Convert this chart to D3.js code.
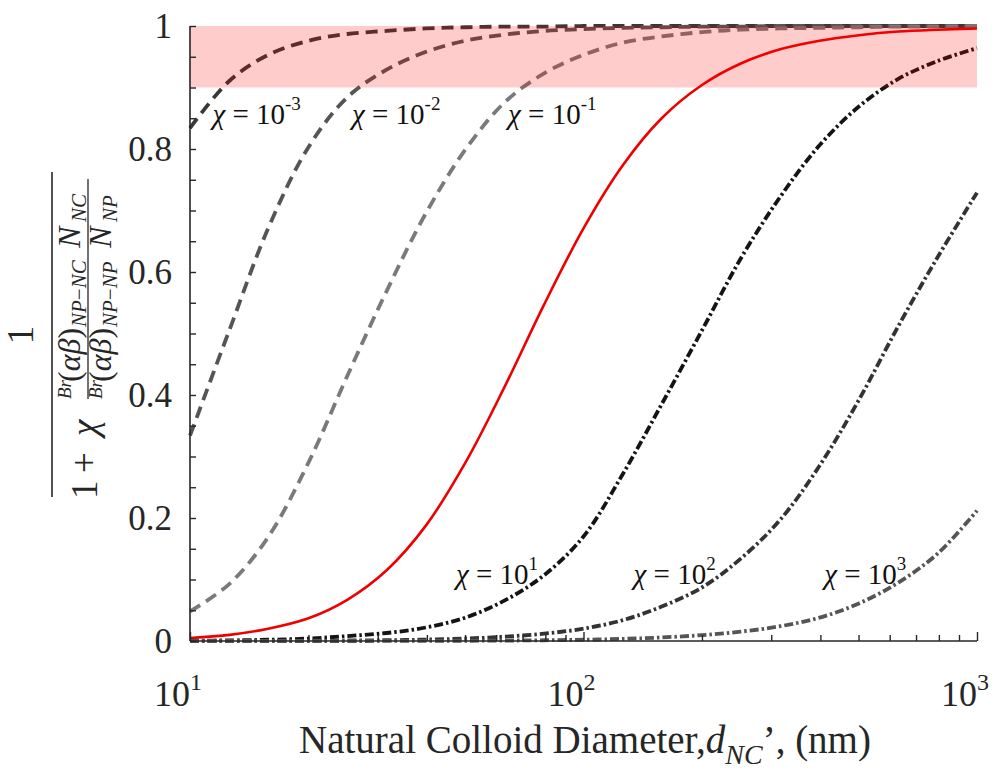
<!DOCTYPE html>
<html>
<head>
<meta charset="utf-8">
<script src="https://cdn.jsdelivr.net/npm/d3@7"></script>
<style>
  html, body { margin: 0; padding: 0; background: #fff; }
  svg { display: block; font-family: "Liberation Serif", "Times New Roman", serif; }
</style>
</head>
<body>
<svg id="chart" width="1005" height="771"></svg>
<script>
// Natural colloid diameter samples (nm), 0.1-decade spacing
const diameters = [10, 12.6, 15.8, 20, 25.1, 31.6, 39.8, 50.1, 63.1, 79.4, 100, 126, 158, 200, 251, 316, 398, 501, 631, 794, 1000];

// Attachment fraction for each chi
const chiEm3 = [0.834, 0.911, 0.953, 0.976, 0.987, 0.992, 0.996, 0.998, 0.999, 0.999, 1.000, 1.000, 1.000, 1.000, 1.000, 1.000, 1.000, 1.000, 1.000, 1.000, 1.000];
const chiEm2 = [0.334, 0.506, 0.671, 0.803, 0.884, 0.929, 0.958, 0.976, 0.986, 0.992, 0.995, 0.997, 0.998, 0.999, 0.999, 1.000, 1.000, 1.000, 1.000, 1.000, 1.000];
const chiEm1 = [0.048, 0.093, 0.169, 0.290, 0.431, 0.569, 0.696, 0.799, 0.876, 0.923, 0.953, 0.973, 0.983, 0.990, 0.994, 0.996, 0.997, 0.998, 0.999, 0.999, 1.000];
const chiE0  = [0.005, 0.010, 0.020, 0.037, 0.067, 0.115, 0.188, 0.290, 0.414, 0.547, 0.671, 0.774, 0.850, 0.904, 0.939, 0.962, 0.976, 0.985, 0.991, 0.994, 0.996];
const chiE1  = [0.0005, 0.001, 0.002, 0.004, 0.008, 0.013, 0.022, 0.038, 0.066, 0.107, 0.170, 0.272, 0.385, 0.505, 0.622, 0.722, 0.806, 0.869, 0.914, 0.943, 0.964];
const chiE2  = [0, 0.0001, 0.0002, 0.0004, 0.0008, 0.0013, 0.0023, 0.004, 0.007, 0.012, 0.020, 0.034, 0.056, 0.087, 0.134, 0.197, 0.285, 0.392, 0.512, 0.624, 0.729];
const chiE3  = [0, 0, 0, 0, 0, 0.0001, 0.0002, 0.0004, 0.0007, 0.0012, 0.002, 0.0035, 0.0058, 0.0095, 0.0152, 0.024, 0.038, 0.061, 0.095, 0.142, 0.212];

// Curve annotations: exponent of chi, anchor diameter, anchor fraction
const labelExponents = ["-3", "-2", "-1", "1", "2", "3"];
const labelDiameters = [11.4, 25.8, 64.3, 47.4, 134, 409];
const labelFractions = [0.841, 0.841, 0.841, 0.093, 0.093, 0.093];

// Axis ticks
const yTickValues = d3.range(0, 21).map(i => i / 20);
const yTickLabels = ["0", "0.2", "0.4", "0.6", "0.8", "1"];
const xDecades = [10, 100, 1000];
const xDecadeExponents = ["1", "2", "3"];

// Target band (fraction between 0.9 and 1)
const bandRange = [0.9, 1.0];

const series = [
  { values: chiEm3, color: "#383838", dash: "12,7",      width: 3.8 },
  { values: chiEm2, color: "#555555", dash: "12,7",      width: 3.8 },
  { values: chiEm1, color: "#7a7a7a", dash: "12,7",      width: 3.8 },
  { values: chiE0,  color: "#ee0000", dash: null,        width: 2.6 },
  { values: chiE1,  color: "#141414", dash: "9,3,2.5,3", width: 3.8 },
  { values: chiE2,  color: "#333333", dash: "9,3,2.5,3", width: 3.8 },
  { values: chiE3,  color: "#555555", dash: "9,3,2.5,3", width: 3.8 }
];

const svg = d3.select("#chart");
const x = d3.scaleLog().domain([10, 1000]).range([190, 977]);
const y = d3.scaleLinear().domain([0, 1]).range([641, 26]);
const axisColor = "#262626";

// Curves
const line = d3.line()
  .x(d => x(d[0]))
  .y(d => y(d[1]))
  .curve(d3.curveCatmullRom.alpha(0.5));

const curves = svg.append("g");
series.forEach(s => {
  curves.append("path")
    .datum(diameters.map((d, i) => [d, s.values[i]]))
    .attr("d", line)
    .attr("fill", "none")
    .attr("stroke", s.color)
    .attr("stroke-width", s.width)
    .attr("stroke-dasharray", s.dash)
    .attr("stroke-linejoin", "round");
});

// Translucent band drawn over the curves
svg.append("rect")
  .attr("x", x(10))
  .attr("y", y(bandRange[1]))
  .attr("width", x(1000) - x(10))
  .attr("height", y(bandRange[0]) - y(bandRange[1]))
  .attr("fill", "rgb(255,0,0)")
  .attr("fill-opacity", 0.2);

// Y axis
const yAxis = svg.append("g")
  .attr("transform", `translate(${x(10)},0)`)
  .call(d3.axisLeft(y)
    .tickValues(yTickValues)
    .tickSize(-6)
    .tickPadding(18)
    .tickFormat((d, i) => (i % 4 === 0 ? yTickLabels[i / 4] : "")));
yAxis.select(".domain").attr("stroke", axisColor).attr("stroke-width", 1.6).attr("d", `M0,${y(0)}V${y(1)}`);
yAxis.selectAll(".tick line").attr("stroke", axisColor).attr("stroke-width", 1.4);
yAxis.selectAll(".tick text")
  .attr("font-size", 35)
  .attr("fill", "#262626")
  .attr("font-family", "Liberation Serif, serif");

// X axis
const xTicks = [];
[10, 100].forEach(dec => { for (let k = 1; k < 10; k++) xTicks.push(dec * k); });
xTicks.push(1000);
const xAxis = svg.append("g")
  .attr("transform", `translate(0,${y(0)})`)
  .call(d3.axisBottom(x)
    .tickValues(xTicks)
    .tickSize(-6)
    .tickFormat(() => ""));
xAxis.select(".domain").attr("stroke", axisColor).attr("stroke-width", 1.6).attr("d", `M${x(10)},0H${x(1000)}`);
xAxis.selectAll(".tick line")
  .attr("stroke", axisColor)
  .attr("stroke-width", 1.4)
  .attr("y2", d => (xDecades.includes(d) ? -9 : -6));

xDecades.forEach((v, i) => {
  const t = svg.append("text")
    .attr("x", x(v) - 36)
    .attr("y", 706)
    .attr("font-size", 36)
    .attr("fill", "#262626");
  t.append("tspan").text("10");
  t.append("tspan").attr("font-size", 24).attr("dy", -16).text(xDecadeExponents[i]);
});

// X axis title
const xt = svg.append("text")
  .attr("x", 585)
  .attr("y", 753)
  .attr("text-anchor", "middle")
  .attr("font-size", 39)
  .attr("fill", "#262626");
xt.append("tspan").text("Natural Colloid Diameter,");
xt.append("tspan").attr("font-style", "italic").text("d");
xt.append("tspan").attr("font-style", "italic").attr("font-size", 28).attr("dy", 11).text("NC");
xt.append("tspan").attr("dy", -11).text("’, (nm)");

// Curve labels
labelExponents.forEach((e, i) => {
  const t = svg.append("text")
    .attr("x", x(labelDiameters[i]))
    .attr("y", y(labelFractions[i]))
    .attr("font-size", 29)
    .attr("fill", "#111");
  t.append("tspan").attr("font-style", "italic").text("χ");
  t.append("tspan").text(" = 10");
  t.append("tspan").attr("font-size", 19).attr("dy", -14).text(e);
});

// Y axis title: 1 / (1 + chi^(ratio)) laid out along the rotated baseline
const yl = svg.append("g")
  .attr("transform", "translate(0,335) rotate(-90)")
  .attr("fill", "#262626");

yl.append("text").attr("x", 0).attr("y", 33).attr("text-anchor", "middle").attr("font-size", 37).text("1");
yl.append("line")
  .attr("x1", -162).attr("x2", 163).attr("y1", 52).attr("y2", 52)
  .attr("stroke", axisColor).attr("stroke-width", 1.6);

yl.append("text").attr("x", -164).attr("y", 97).attr("font-size", 37).text("1");
yl.append("text").attr("x", -138).attr("y", 97).attr("font-size", 37).text("+");
yl.append("text").attr("x", -101).attr("y", 97).attr("font-size", 37).attr("font-style", "italic").text("χ");

function exponentRow(base, sub) {
  yl.append("text").attr("x", -64).attr("y", base - 9).attr("font-size", 19).attr("font-style", "italic").text("Br");
  const ab = yl.append("text").attr("x", -47).attr("y", base).attr("font-size", 32);
  ab.append("tspan").text("(");
  ab.append("tspan").attr("font-style", "italic").text("αβ");
  ab.append("tspan").text(")");
  const s1 = yl.append("text").attr("x", 8).attr("y", base + 6).attr("font-size", 21).attr("font-style", "italic");
  s1.append("tspan").text("NP");
  s1.append("tspan").attr("font-style", "normal").text("−");
  s1.append("tspan").text(sub);
  yl.append("text").attr("x", 87).attr("y", base).attr("font-size", 32).attr("font-style", "italic").text("N");
  yl.append("text").attr("x", 113).attr("y", base + 6).attr("font-size", 21).attr("font-style", "italic").text(sub);
}
exponentRow(80, "NC");
yl.append("line")
  .attr("x1", -64).attr("x2", 156).attr("y1", 88).attr("y2", 88)
  .attr("stroke", axisColor).attr("stroke-width", 1.3);
exponentRow(111, "NP");
</script>
</body>
</html>
